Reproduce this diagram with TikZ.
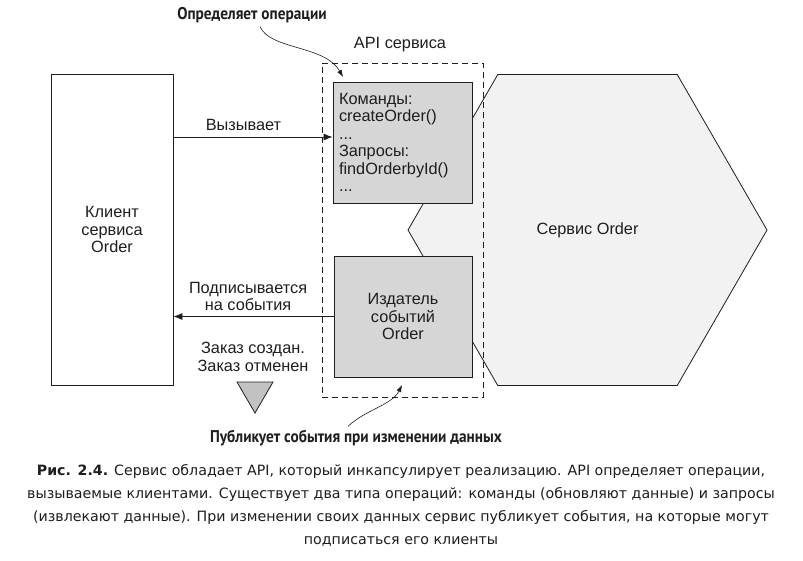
\documentclass[tikz,border=0pt]{standalone}
\usepackage{fontspec}
\setmainfont{Liberation Sans}
\newfontfamily\CalloutFace[FakeStretch=0.9]{PT Sans}
\newfontfamily\CaptionFace{DejaVu Sans}
\usetikzlibrary{arrows.meta, shapes.geometric, positioning}
\definecolor{PanelGray}{HTML}{D6D6D6}
\definecolor{HexFill}{HTML}{F2F2F2}
\definecolor{InkBlack}{HTML}{1E1E1E}
\definecolor{MarkerGray}{HTML}{C2C2C2}
\newcommand{\LabelFont}{\fontsize{16.3pt}{17.5pt}\selectfont}
\newcommand{\CalloutFont}{\CalloutFace\bfseries\fontsize{17pt}{17pt}\selectfont}
\newcommand{\CaptionFont}{\CaptionFace\fontsize{14.2pt}{23pt}\selectfont}

\begin{document}
\begin{tikzpicture}[x=1pt, y=-1pt, line width=0.8pt, color=InkBlack, font=\LabelFont,
  panel/.style={draw, fill=PanelGray, minimum height=121pt, inner sep=6pt},
  flow/.style={-{Latex[length=9pt,width=7pt]}},
  hint/.style={-{Latex[length=7pt,width=5pt]}, line width=0.6pt}]
  \useasboundingbox[fill=white] (0,0) rectangle (803,560);

  % service hexagon and client
  \node[regular polygon, regular polygon sides=6, minimum size=359pt, inner sep=0pt,
    draw, fill=HexFill] (svc) at (587.5,230) {Сервис Order};
  \node[draw, minimum width=122pt, minimum height=311pt, align=center] (client) at (112,229.5)
    {Клиент\\сервиса\\Order};

  % api boundary
  \node[draw, dash pattern=on 6pt off 4pt, minimum width=161pt, minimum height=334pt] (api)
    at (402.5,230) {};
  \node (apiLbl) at (400,45) {API сервиса};
  \node[panel, text width=127pt, align=left] (cmds) at (402.5,142.5)
    {Команды:\\createOrder()\\...\\Запросы:\\findOrderbyId()\\...};
  \node[panel, minimum width=138pt, align=center] (pub) at (403,316.5)
    {Издатель\\событий\\Order};

  % calls and events
  \coordinate (callY) at (0,137);
  \draw[flow] (client.east |- callY) -- node[above=3pt, pos=0.44] {Вызывает} (cmds.west |- callY);
  \draw[flow] (pub.west) -- node[above=2pt, pos=0.534, align=center] {Подписывается\\на события}
    (client.east |- pub.west);
  \node[align=center] (evts) at (253,357) {Заказ создан.\\Заказ отменен};
  \draw[fill=MarkerGray] (237,382) -- (273,382) -- (255,413) -- cycle;

  % callouts
  \node[font=\CalloutFont] (opsLbl) at (252,15) {Определяет операции};
  \coordinate (opsTip) at (343,77);
  \draw[hint] ([xshift=8pt]opsLbl.south) .. controls (270,50) and (325,45) .. (opsTip);
  \node[font=\CalloutFont] (pubLbl) at (356,438) {Публикует события при изменении данных};
  \coordinate (pubTip) at (402,385);
  \draw[hint] ([xshift=-8pt]pubLbl.north) .. controls (365,410) and (392,405) .. (pubTip);

  % caption
  \node[font=\CaptionFont, align=center] (caption) at (401,505.5)
    {\textbf{Рис. 2.4.} Сервис обладает API, который инкапсулирует реализацию. API определяет операции,\\
     вызываемые клиентами. Существует два типа операций: команды (обновляют данные) и запросы\\
     (извлекают данные). При изменении своих данных сервис публикует события, на которые могут\\
     подписаться его клиенты};
\end{tikzpicture}
\end{document}
